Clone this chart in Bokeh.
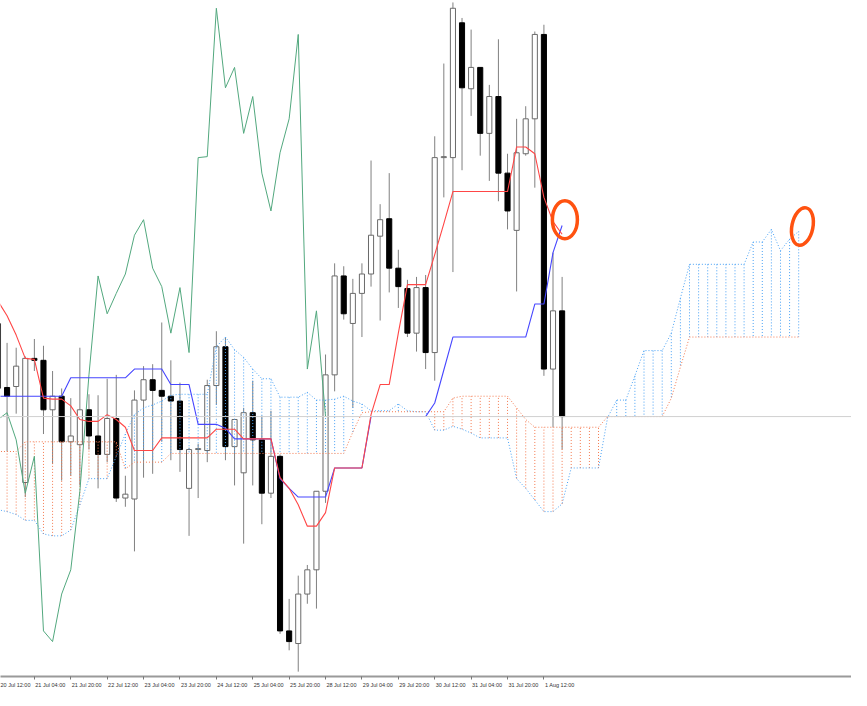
from bokeh.plotting import figure
from bokeh.models import Range1d, FixedTicker, ColumnDataSource, Span
from bokeh.embed import file_html
from bokeh.resources import INLINE

# ---------------- data (USDJPY H4, price in points) ----------------
FIRST_BAR = -1          # bar index of the first value below (20 Jul 12:00)
SHIFT = 26              # Ichimoku displacement

bar_open = [667, 601, 602, 503, 631, 629, 578, 592, 545, 542, 578, 551, 532, 569, 487, 486,
            588, 609, 598, 592, 587, 497, 537, 536, 603, 643, 540, 513, 575, 547, 492, 530,
            350, 337, 388, 413, 494, 614, 716, 667, 698, 718, 757, 775, 724, 703, 657, 704,
            637, 838, 838, 977, 909, 931, 863, 901, 822, 763, 842, 878, 965, 620, 680]
bar_close = [600, 592, 623, 631, 629, 578, 592, 545, 551, 578, 551, 532, 569, 487, 491, 588,
             609, 598, 592, 587, 537, 537, 538, 603, 643, 540, 568, 575, 547, 492, 530, 350,
             339, 388, 413, 494, 614, 716, 677, 698, 718, 758, 774, 724, 705, 657, 704, 637,
             838, 839, 992, 910, 931, 863, 901, 822, 783, 843, 878, 965, 620, 680, 571]
bar_high = [675, 647, 642, 633, 651, 644, 618, 600, 590, 642, 594, 593, 610, 614, 510, 598,
            623, 625, 668, 629, 606, 539, 543, 609, 659, 652, 568, 580, 608, 572, 577, 532,
            383, 407, 418, 494, 635, 729, 726, 713, 729, 835, 790, 822, 743, 712, 715, 717,
            860, 935, 998, 982, 970, 931, 913, 960, 842, 878, 891, 968, 975, 740, 715]
bar_low = [592, 535, 574, 488, 618, 553, 522, 505, 510, 500, 537, 497, 524, 483, 478, 432,
           508, 512, 545, 526, 514, 448, 487, 524, 583, 526, 500, 440, 500, 460, 487, 347,
           330, 308, 378, 373, 482, 597, 671, 580, 653, 705, 670, 699, 683, 653, 638, 620,
           608, 797, 720, 825, 881, 840, 814, 793, 764, 700, 840, 807, 613, 560, 537]

tenkan = [690, 675, 655, 631, 630, 590, 589, 589, 582, 568, 566, 566, 573, 568, 560, 536,
          536, 536, 549, 549, 549, 549, 549, 549, 558, 558, 558, 548, 548, 548, 548, 508,
          497, 480, 458, 458, 472, 518, 518, 518, 518, 573, 604, 604, 657, 707, 707, 707,
          738, 770, 803, 803, 803, 803, 803, 803, 803, 849, 849, 842, 797, 772, 759]
kijun = [592, 592, 592, 592, 592, 592, 592, 592, 611, 611, 611, 611, 611, 611, 611, 620,
         620, 620, 620, 604, 604, 604, 563, 563, 563, 559, 548, 548, 548, 548, 548, 507,
         497, 488, 488, 488, 488, 518, 518, 518, 518, 571, 571, 571, 571, 571, 571, 571,
         585, 619, 653, 653, 653, 653, 653, 653, 653, 653, 653, 687, 687, 740, 768]
senkou_a = [475, 473, 470, 464, 464, 450, 448, 448, 454, 480, 507, 507, 507, 530, 553, 573,
            580, 583, 587, 593, 594, 594, 594, 594, 643, 653, 640, 632, 620, 610, 610, 591,
            591, 591, 596, 588, 588, 589, 592, 587, 584, 577, 577, 577, 584, 577, 576, 576,
            557, 557, 561, 558, 554, 549, 549, 549, 549, 507, 497, 485, 473, 473, 481, 518,
            518, 518, 518, 570, 588, 588, 613, 639, 639, 639, 657, 693, 728, 728, 728, 728,
            728, 728, 728, 751, 751, 764, 742, 754, 762]
senkou_b = [535, 535, 535, 545, 545, 545, 545, 545, 545, 545, 545, 545, 545, 545, 517, 524,
            524, 524, 524, 533, 533, 533, 533, 533, 533, 533, 533, 533, 533, 533, 533, 533,
            533, 533, 533, 533, 533, 533, 533, 555, 575, 576, 576, 576, 576, 576, 576, 576,
            576, 576, 590, 592, 592, 592, 592, 592, 592, 580, 568, 560, 560, 560, 560, 560,
            560, 560, 560, 571, 571, 571, 571, 571, 571, 571, 590, 622, 653, 653, 653, 653,
            653, 653, 653, 653, 653, 653, 653, 653, 653]

tick_labels = ["20 Jul 12:00", "21 Jul 04:00", "21 Jul 20:00", "22 Jul 12:00", "23 Jul 04:00",
               "23 Jul 20:00", "24 Jul 12:00", "25 Jul 04:00", "25 Jul 20:00", "28 Jul 12:00",
               "29 Jul 04:00", "29 Jul 20:00", "30 Jul 12:00", "31 Jul 04:00", "31 Jul 20:00",
               "1 Aug 12:00"]
BARS_PER_LABEL = 4

# ---------------- derived sources ----------------
n = len(bar_close)
bars = [FIRST_BAR + i for i in range(n)]
up = [c >= o for o, c in zip(bar_open, bar_close)]

def body(flag):
    xs, top, bot = [], [], []
    for i in range(n):
        if up[i] == flag:
            xs.append(bars[i])
            t, b = max(bar_open[i], bar_close[i]), min(bar_open[i], bar_close[i])
            if t - b < 1:
                t, b = t + 0.5, b - 0.5
            top.append(t)
            bot.append(b)
    return ColumnDataSource(dict(x=xs, top=top, bottom=bot))

wick_src = ColumnDataSource(dict(x=bars, high=bar_high, low=bar_low))
cloud_x = [FIRST_BAR + i for i in range(len(senkou_a))]

def hatch(a_above):
    xs, y0, y1 = [], [], []
    for x, a, b in zip(cloud_x, senkou_a, senkou_b):
        if a == b:
            continue
        if (a > b) == a_above:
            xs.append(x); y0.append(a); y1.append(b)
    return ColumnDataSource(dict(x=xs, y0=y0, y1=y1))

chikou_x = bars[:n - SHIFT]
chikou_y = bar_close[SHIFT:]

# ---------------- figure ----------------
PX_PER_BAR = 9.27     # bar spacing in the original picture
X0_PX = 6.7           # position of bar 0 in the original picture
SRC_W = 867.0
p = figure(width=851, height=690, output_backend="svg", toolbar_location=None,
           x_range=Range1d(-X0_PX / PX_PER_BAR, (SRC_W - X0_PX) / PX_PER_BAR),
           y_range=Range1d(303, 1000), y_axis_location=None,
           min_border_left=0, min_border_right=0, min_border_top=0, min_border_bottom=9)
p.outline_line_color = None
p.grid.visible = False
p.background_fill_color = "white"

# last price line
p.add_layout(Span(location=bar_close[-1], dimension="width", line_color="#d0d0d0", line_width=1))

# candles
p.segment(x0="x", y0="high", x1="x", y1="low", source=wick_src, line_color="#808080", line_width=1)
p.vbar(x="x", top="top", bottom="bottom", width=0.56, source=body(True),
       fill_color="white", line_color="#6a6a6a", line_width=1)
p.vbar(x="x", top="top", bottom="bottom", width=0.56, source=body(False),
       fill_color="black", line_color="black", line_width=1)

# cloud hatching
BLUE_DOT = "#4aa2f5"
ORANGE_DOT = "#f47a50"
p.segment(x0="x", y0="y0", x1="x", y1="y1", source=hatch(True),
          line_color=BLUE_DOT, line_width=1, line_dash="1 2")
p.segment(x0="x", y0="y0", x1="x", y1="y1", source=hatch(False),
          line_color=ORANGE_DOT, line_width=1, line_dash="1 2")
p.line(cloud_x, senkou_a, line_color=BLUE_DOT, line_width=1, line_dash="1 2")
p.line(cloud_x, senkou_b, line_color=ORANGE_DOT, line_width=1, line_dash="1 2")

# lines
p.line(chikou_x, chikou_y, line_color="#52a87e", line_width=1)
p.line(bars, kijun, line_color="#4646ff", line_width=1.1)
p.line(bars, tenkan, line_color="#ff4646", line_width=1.1)

# hand drawn marks
p.ellipse(x=[(575 - X0_PX) / PX_PER_BAR], y=[774], width=25, height=38,
          width_units="screen", height_units="screen",
          fill_color=None, line_color="#ff5210", line_width=3.5)
p.ellipse(x=[(817 - X0_PX) / PX_PER_BAR], y=[767], width=21, height=38, angle=-0.2,
          width_units="screen", height_units="screen",
          fill_color=None, line_color="#ff5210", line_width=3.5)

# time axis
tick_bars = [FIRST_BAR + BARS_PER_LABEL * i for i in range(len(tick_labels))]
LABEL_SHIFT = 1.75
label_pos = [b + LABEL_SHIFT for b in tick_bars]
ax = p.xaxis[0]
ax.ticker = FixedTicker(ticks=label_pos, minor_ticks=tick_bars)
ax.major_label_overrides = {pos: lab for pos, lab in zip(label_pos, tick_labels)}
ax.major_tick_out = 0
ax.major_tick_in = 0
ax.minor_tick_out = 3
ax.minor_tick_in = 0
ax.minor_tick_line_color = "#777777"
ax.axis_line_color = "#9a9a9a"
ax.axis_line_width = 2
ax.major_label_standoff = 2
ax.major_label_text_font = "Liberation Sans"
ax.major_label_text_font_size = "5.5px"
ax.major_label_text_color = "#333333"

open("out.html", "w").write(file_html(p, INLINE))
